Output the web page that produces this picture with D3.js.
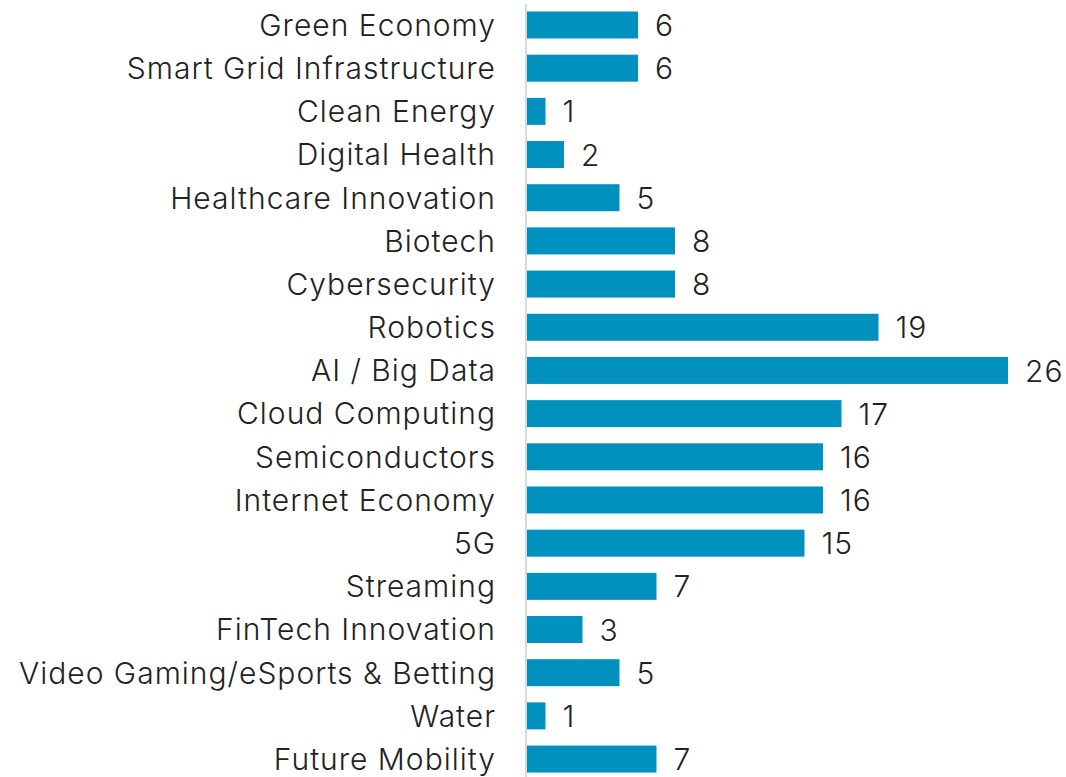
<!DOCTYPE html>
<html>
<head>
<meta charset="utf-8">
<script src="https://cdn.jsdelivr.net/npm/d3@7"></script>
<style>
  body { margin: 0; background: #fff; }
  text { font-family: Inter, "Noto Sans", sans-serif; font-weight: 300; fill: #222; letter-spacing: 1px; }
</style>
</head>
<body>
<div id="chart_area"></div>
<script>
// categories, top to bottom
var themes = ["Green Economy", "Smart Grid Infrastructure", "Clean Energy", "Digital Health",
  "Healthcare Innovation", "Biotech", "Cybersecurity", "Robotics", "AI / Big Data",
  "Cloud Computing", "Semiconductors", "Internet Economy", "5G", "Streaming",
  "FinTech Innovation", "Video Gaming/eSports & Betting", "Water", "Future Mobility"];
var counts = [6, 6, 1, 2, 5, 8, 8, 19, 26, 17, 16, 16, 15, 7, 3, 5, 1, 7];

var dataset = themes.map(function(t, i){ return {theme: t, count: counts[i]}; });

// frame size
var frame_width = 1066;
var frame_height = 777;
var axis_x = 527;

var svg = d3.select("#chart_area").append("svg")
  .attr("width", frame_width)
  .attr("height", frame_height);

// scales
var xScale = d3.scaleLinear()
  .domain([0, 26])
  .range([axis_x, 1008]);

var step = 43.18;
var yScale = d3.scaleBand()
  .domain(themes)
  .range([25 - step / 2, 25 + step * (themes.length - 0.5)])
  .paddingInner(0.375)
  .paddingOuter(0.1875);

// bars
svg.selectAll(".bar")
  .data(dataset)
  .enter()
  .append("rect")
  .attr("class", "bar")
  .attr("x", xScale(0))
  .attr("y", function(d) { return yScale(d.theme); })
  .attr("width", function(d) { return xScale(d.count) - xScale(0); })
  .attr("height", yScale.bandwidth())
  .style("fill", "#0091bf");

// vertical axis line
svg.append("line")
  .attr("x1", axis_x - 1).attr("x2", axis_x - 1)
  .attr("y1", 4).attr("y2", frame_height)
  .style("stroke", "#d9d9d9")
  .style("stroke-width", 2);

// category labels
var yAxis = d3.axisLeft(yScale).tickSize(0).tickPadding(0);
var ax = svg.append("g")
  .attr("transform", "translate(496,0)")
  .call(yAxis);
ax.select(".domain").remove();
ax.selectAll("text")
  .attr("font-size", 30)
  .attr("dy", "0.36em")
  .style("font-family", "Inter, 'Noto Sans', sans-serif")
  .style("font-weight", 300)
  .style("letter-spacing", "1px")
  .style("fill", "#222");

// value labels
svg.selectAll(".value")
  .data(dataset)
  .enter()
  .append("text")
  .attr("class", "value")
  .attr("x", function(d) { return xScale(d.count) + 17; })
  .attr("y", function(d) { return yScale(d.theme) + yScale.bandwidth() / 2; })
  .attr("dy", "0.37em")
  .attr("font-size", 30)
  .text(function(d) { return d.count; });
</script>
</body>
</html>
